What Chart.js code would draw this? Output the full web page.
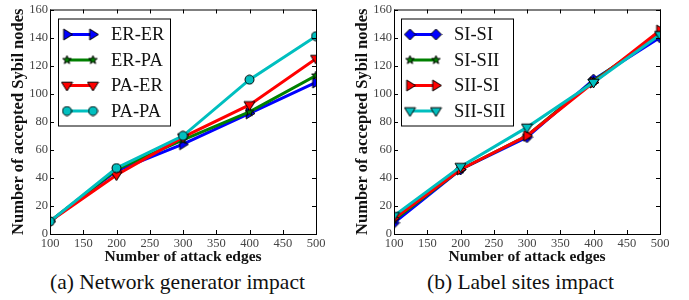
<!DOCTYPE html>
<html>
<head>
<meta charset="utf-8">
<script src="https://cdn.jsdelivr.net/npm/chart.js@4.4.0/dist/chart.umd.min.js"></script>
<style>
  body { margin: 0; background: #fff; width: 689px; height: 300px; overflow: hidden; position: relative; }
  .wrap { position: absolute; top: 0; width: 330px; height: 266px; }
  .cap { position: absolute; top: 270px; font-family: "Liberation Serif", "Times New Roman", "DejaVu Serif", serif; font-size: 21.5px; color: #111; white-space: nowrap; }
</style>
</head>
<body>
<div class="wrap" style="left:0px"><canvas id="chartA" width="330" height="266"></canvas></div>
<div class="wrap" style="left:344px"><canvas id="chartB" width="330" height="266"></canvas></div>
<div class="cap" style="left:50px">(a) Network generator impact</div>
<div class="cap" style="left:427px">(b) Label sites impact</div>
<script>
// attack edges
const attackEdges = [100, 200, 300, 400, 500];

// (a) network generator
const erEr = [9, 45, 64, 86, 108];
const erPa = [9, 46, 67, 87, 113];
const paEr = [9, 42, 69, 92, 125];
const paPa = [9, 47, 70, 110, 141];

// (b) label sites
const siSi = [8, 46, 69, 110, 140];
const siSii = [10, 46, 70, 109, 143];
const siiSi = [11, 46, 70, 108, 145];
const siiSii = [13, 48, 76, 108, 142];

const yTicks = [0, 20, 40, 60, 80, 100, 120, 140, 160];
const xTicks = [100, 150, 200, 250, 300, 350, 400, 450, 500];

const BLUE = "#0000ff", GREEN = "#008000", RED = "#ff0000", CYAN = "#00bfbf";
const SERIF = "'Liberation Serif', 'Times New Roman', 'DejaVu Serif', serif";

// marker images (matplotlib style, black edge)
function marker(shape, color, size) {
  const c = document.createElement("canvas");
  c.width = size; c.height = size;
  const g = c.getContext("2d");
  const m = size / 2, r = size / 2 - 1;
  g.fillStyle = color;
  g.strokeStyle = "#000";
  g.lineWidth = 1;
  g.beginPath();
  if (shape === "circle") {
    g.arc(m, m, r, 0, Math.PI * 2);
  } else if (shape === "right") {
    g.moveTo(m + r, m); g.lineTo(m - r * 0.6, m - r); g.lineTo(m - r * 0.6, m + r);
  } else if (shape === "down") {
    g.moveTo(m, m + r); g.lineTo(m - r, m - r * 0.6); g.lineTo(m + r, m - r * 0.6);
  } else if (shape === "diamond") {
    g.moveTo(m, m - r); g.lineTo(m + r, m); g.lineTo(m, m + r); g.lineTo(m - r, m);
  } else if (shape === "star") {
    for (let i = 0; i < 10; i++) {
      const a = -Math.PI / 2 + i * Math.PI / 5;
      const rr = i % 2 ? r * 0.42 : r;
      const px = m + rr * Math.cos(a), py = m + rr * Math.sin(a);
      i ? g.lineTo(px, py) : g.moveTo(px, py);
    }
  }
  g.closePath();
  g.fill();
  g.stroke();
  return c;
}

function ds(label, data, color, shape, size, n) {
  return {
    label: label,
    data: data.map((v, i) => ({ x: attackEdges[i], y: v })),
    borderColor: color,
    backgroundColor: color,
    borderWidth: 3,
    pointStyle: marker(shape, color, size),
    pointRadius: 6,
    order: 4 - n,
    tension: 0
  };
}

const frameTicks = {
  id: "frameTicks",
  afterDraw(chart) {
    const { ctx, chartArea: a, scales } = chart;
    ctx.save();
    ctx.strokeStyle = "#000";
    ctx.lineWidth = 1;
    ctx.strokeRect(a.left + 0.5, a.top + 0.5, a.right - a.left, a.bottom - a.top);
    ctx.beginPath();
    xTicks.forEach(t => {
      const x = Math.round(scales.x.getPixelForValue(t)) + 0.5;
      ctx.moveTo(x, a.bottom); ctx.lineTo(x, a.bottom - 4);
      ctx.moveTo(x, a.top); ctx.lineTo(x, a.top + 4);
    });
    yTicks.forEach(t => {
      const y = Math.round(scales.y.getPixelForValue(t)) + 0.5;
      ctx.moveTo(a.left, y); ctx.lineTo(a.left + 4, y);
      ctx.moveTo(a.right, y); ctx.lineTo(a.right - 4, y);
    });
    ctx.stroke();

    // legend box inside plot
    const lg = chart.options.plugins.boxLegend;
    const bx = a.left + lg.dx, by = a.top + lg.dy;
    ctx.fillStyle = "#fff";
    ctx.fillRect(bx, by, 112, 107);
    ctx.strokeRect(bx + 0.5, by + 0.5, 112, 107);
    ctx.font = "18.5px " + SERIF;
    ctx.textBaseline = "middle";
    chart.data.datasets.forEach((d, i) => {
      const y = by + 16 + i * 25.5;
      ctx.strokeStyle = d.borderColor;
      ctx.lineWidth = 3;
      ctx.beginPath();
      ctx.moveTo(bx + 9, y); ctx.lineTo(bx + 35, y);
      ctx.stroke();
      const img = d.pointStyle;
      ctx.drawImage(img, bx + 9 - img.width / 2, y - img.height / 2);
      ctx.drawImage(img, bx + 35 - img.width / 2, y - img.height / 2);
      ctx.fillStyle = "#111";
      ctx.fillText(d.label, bx + 53, y + 1);
    });
    ctx.restore();
  }
};

function makeChart(id, datasets, legendDx) {
  return new Chart(document.getElementById(id), {
    type: "line",
    data: { datasets: datasets },
    options: {
      responsive: false,
      animation: false,
      layout: { padding: { top: 4, right: 14, left: 0, bottom: 0 } },
      plugins: {
        legend: { display: false },
        tooltip: { enabled: false },
        boxLegend: { dx: legendDx, dy: 9 }
      },
      scales: {
        x: {
          type: "linear", min: 100, max: 500,
          afterBuildTicks: s => { s.ticks = xTicks.map(v => ({ value: v })); },
          afterFit: s => { s.height = 32; },
          grid: { display: false, drawTicks: false },
          border: { display: false },
          ticks: { color: "#444", padding: 2, font: { family: SERIF, size: 12.5 }, maxRotation: 0 },
          title: { display: true, text: "Number of attack edges", color: "#111", padding: 0,
                   font: { family: SERIF, size: 15.5, weight: "bold" } }
        },
        y: {
          min: 0, max: 160,
          afterBuildTicks: s => { s.ticks = yTicks.map(v => ({ value: v })); },
          afterFit: s => { s.width = 50; },
          grid: { display: false, drawTicks: false },
          border: { display: false },
          ticks: { color: "#444", padding: 2, font: { family: SERIF, size: 12.5 } },
          title: { display: true, text: "Number of accepted Sybil nodes", color: "#111", padding: 9,
                   font: { family: SERIF, size: 16.5, weight: "bold" } }
        }
      }
    },
    plugins: [frameTicks]
  });
}

makeChart("chartA", [
  ds("ER-ER", erEr, BLUE, "right", 13, 0),
  ds("ER-PA", erPa, GREEN, "star", 11, 1),
  ds("PA-ER", paEr, RED, "down", 13, 2),
  ds("PA-PA", paPa, CYAN, "circle", 11, 3)
], 8);

makeChart("chartB", [
  ds("SI-SI", siSi, BLUE, "diamond", 13, 0),
  ds("SI-SII", siSii, GREEN, "star", 11, 1),
  ds("SII-SI", siiSi, RED, "right", 13, 2),
  ds("SII-SII", siiSii, CYAN, "down", 13, 3)
], 7);
</script>
</body>
</html>
